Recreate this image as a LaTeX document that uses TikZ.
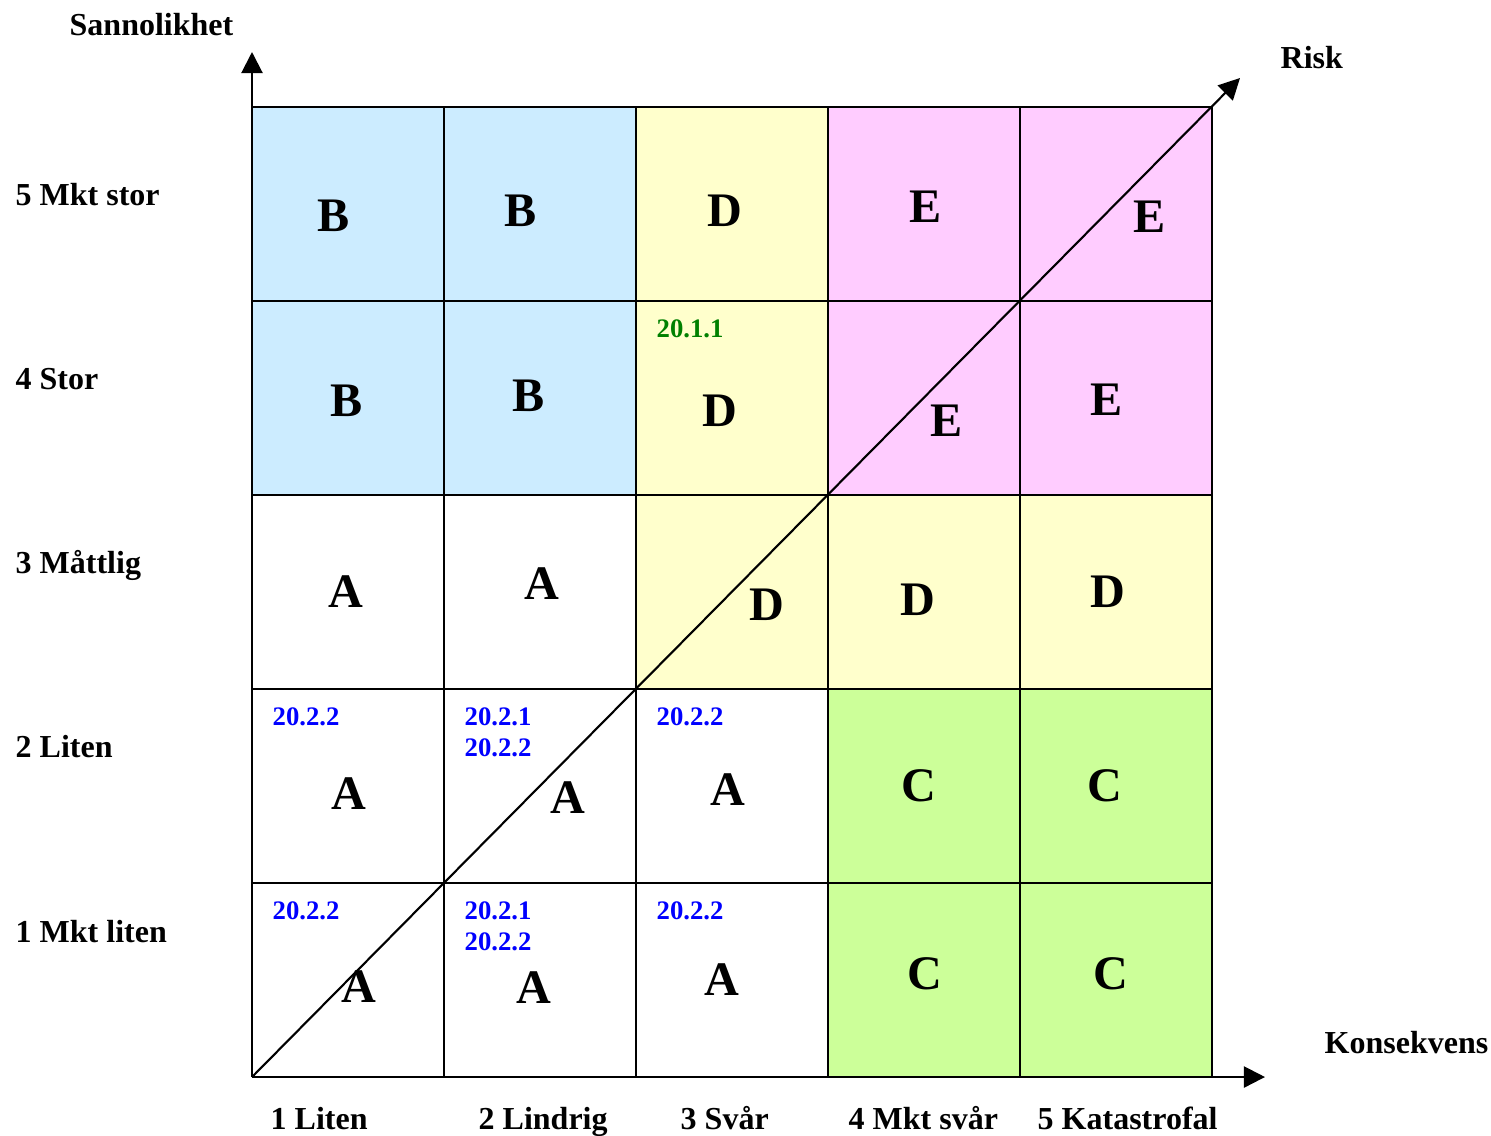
\documentclass[tikz,border=0pt]{standalone}
\usepackage{fontspec}
\setmainfont{Liberation Serif}
\usepackage{tikz}
\usetikzlibrary{
    arrows.meta,
    positioning
}
\definecolor{riskBlue}{RGB}{204,236,255}
\definecolor{riskYellow}{RGB}{255,255,204}
\definecolor{riskPink}{RGB}{255,204,255}
\definecolor{riskGreen}{RGB}{204,255,153}
\definecolor{codeBlue}{RGB}{0,0,255}
\definecolor{codeGreen}{RGB}{0,128,0}
\tikzset{
  gridline/.style = {line width=0.6pt, black},
  axis/.style     = {-{Triangle[length=6pt,width=6pt]}, line width=0.6pt},
  letter/.style   = {inner sep=0pt, font=\fontsize{13.7}{16}\selectfont\bfseries},
  axislbl/.style  = {inner sep=0pt, anchor=base west, font=\fontsize{9.1}{11}\selectfont\bfseries},
  code/.style     = {inner sep=0pt, anchor=base west, align=left,
                     font=\fontsize{7.6}{8.8}\selectfont\bfseries, codeBlue}
}

\begin{document}
\begin{tikzpicture}[x=0.01cm, y=-0.01cm]
    \useasboundingbox (0,0) rectangle (1491,1135);
    % cell colours, column/row/colour
    \foreach \c/\r/\f in {0/0/riskBlue, 1/0/riskBlue, 2/0/riskYellow, 3/0/riskPink, 4/0/riskPink,
                          0/1/riskBlue, 1/1/riskBlue, 2/1/riskYellow, 3/1/riskPink, 4/1/riskPink,
                          0/2/white, 1/2/white, 2/2/riskYellow, 3/2/riskYellow, 4/2/riskYellow,
                          0/3/white, 1/3/white, 2/3/white, 3/3/riskGreen, 4/3/riskGreen,
                          0/4/white, 1/4/white, 2/4/white, 3/4/riskGreen, 4/4/riskGreen}
        \fill[\f] (252+192*\c,107+194*\r) rectangle ++(192,194);
    \foreach \c in {1,...,5}
        \draw[gridline] (252+192*\c,107) -- (252+192*\c,1077);
    \foreach \r in {0,...,4}
        \draw[gridline] (252,107+194*\r) -- (1212,107+194*\r);

    % axes
    \coordinate (origo) at (252,1077);
    \coordinate (ytop) at (252,52);
    \coordinate (xend) at (1265,1077);
    \coordinate (riskend) at (1240,78);
    \draw[axis] (origo) -- (ytop);
    \draw[axis] (origo) -- (xend);
    \draw[axis] (origo) -- (riskend);

    \node[axislbl] (ylbl) at (69,35) {Sannolikhet};
    \node[axislbl] (risk) at (1280,68) {Risk};
    \node[axislbl] (xlbl) at (1324,1053) {Konsekvens};

    % row labels
    \node[axislbl] (r5) at (15,205) {5 Mkt stor};
    \node[axislbl] (r4) at (15,389) {4 Stor};
    \node[axislbl] (r3) at (15,573) {3 Måttlig};
    \node[axislbl] (r2) at (15,757) {2 Liten};
    \node[axislbl] (r1) at (15,942) {1 Mkt liten};

    % column labels
    \node[axislbl] (k1) at (270,1129) {1 Liten};
    \node[axislbl] (k2) at (478,1129) {2 Lindrig};
    \node[axislbl] (k3) at (680,1129) {3 Svår};
    \node[axislbl] (k4) at (848,1129) {4 Mkt svår};
    \node[axislbl] (k5) at (1037,1129) {5 Katastrofal};

    % risk classes
    \foreach \x/\y/\t [count=\i] in {334/216/B, 521/211/B, 725/211/D, 926/207/E, 1150/217/E,
                                     347/401/B, 529/396/B, 720/411/D, 947/421/E, 1107/400/E,
                                     346/592/A, 542/584/A, 767/605/D, 918/600/D, 1108/592/D,
                                     349/794/A, 568/798/A, 728/790/A, 919/786/C, 1105/786/C,
                                     359/987/A, 534/988/A, 722/980/A, 925/974/C, 1111/974/C}
        \node[letter] (cls\i) at (\x,\y) {\t};

    % references
    \node[code, codeGreen] (ref411) at (656,337) {20.1.1};
    \node[code] (ref21) at (272,725) {20.2.2};
    \node[code] (ref22) at (464,756) {20.2.1\\20.2.2};
    \node[code] (ref23) at (656,725) {20.2.2};
    \node[code] (ref11) at (272,919) {20.2.2};
    \node[code] (ref12) at (464,950) {20.2.1\\20.2.2};
    \node[code] (ref13) at (656,919) {20.2.2};
\end{tikzpicture}
\end{document}
